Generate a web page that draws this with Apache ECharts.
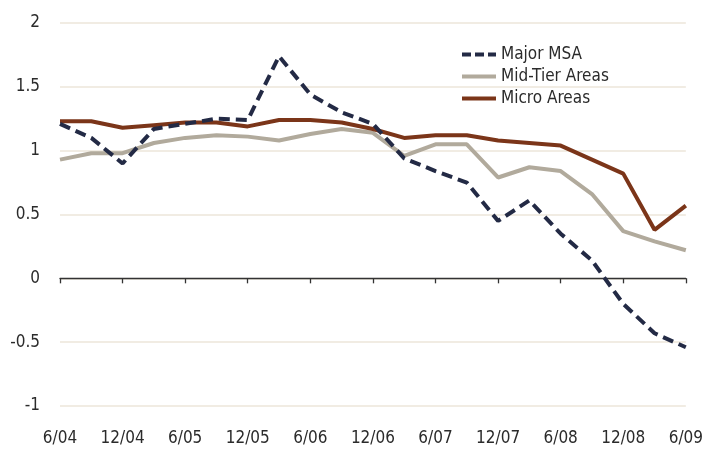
<!DOCTYPE html>
<html>
<head>
<meta charset="utf-8">
<script src="https://cdn.jsdelivr.net/npm/echarts@6/dist/echarts.min.js"></script>
<style>
  html, body { margin: 0; padding: 0; background: #fff; }
  #main { width: 706px; height: 451px; }
</style>
</head>
<body>
<div id="main"></div>
<script>
const quarters = ['6/04', '9/04', '12/04', '3/05', '6/05', '9/05', '12/05', '3/06', '6/06', '9/06', '12/06',
  '3/07', '6/07', '9/07', '12/07', '3/08', '6/08', '9/08', '12/08', '3/09', '6/09'];

const majorMsa = [1.21, 1.10, 0.90, 1.17, 1.21, 1.25, 1.24, 1.74, 1.44, 1.30, 1.21,
  0.94, 0.84, 0.75, 0.45, 0.61, 0.35, 0.14, -0.20, -0.43, -0.54];
const midTier = [0.93, 0.98, 0.98, 1.06, 1.10, 1.12, 1.11, 1.08, 1.13, 1.17, 1.14,
  0.96, 1.05, 1.05, 0.79, 0.87, 0.84, 0.66, 0.37, 0.29, 0.22];
const microAreas = [1.23, 1.23, 1.18, 1.20, 1.22, 1.22, 1.19, 1.24, 1.24, 1.22, 1.17,
  1.10, 1.12, 1.12, 1.08, 1.06, 1.04, 0.93, 0.82, 0.38, 0.57];

const font = '"Liberation Sans Narrow", "DejaVu Sans Condensed", sans-serif';

// legend icons drawn as short bars (dashed one for Major MSA)
const dashIcon = 'path://M0,0h9v4h-9z M13,0h9v4h-9z M26,0h8v4h-8z';
const barIcon = 'path://M0,0h34v4h-34z';

const chart = echarts.init(document.getElementById('main'));

chart.setOption({
  animation: false,
  textStyle: { fontFamily: font },
  grid: { left: 60, right: 16, top: 23, bottom: 45 },
  legend: {
    orient: 'vertical',
    left: 457,
    top: 41,
    itemWidth: 34,
    itemHeight: 4,
    itemGap: 5,
    textStyle: { fontFamily: font, fontSize: 17, color: '#2b2b2b' },
    data: [
      { name: 'Major MSA', icon: dashIcon },
      { name: 'Mid-Tier Areas', icon: barIcon },
      { name: 'Micro Areas', icon: barIcon }
    ]
  },
  xAxis: [{
    type: 'category',
    data: quarters,
    boundaryGap: false,
    axisLine: { onZero: true, lineStyle: { color: '#333', width: 1.3 } },
    axisTick: { show: true, interval: 1, length: 5, lineStyle: { color: '#333', width: 1.3 } },
    axisLabel: { show: false }
  }, {
    type: 'category',
    data: quarters,
    boundaryGap: false,
    position: 'bottom',
    axisLine: { show: false, onZero: false },
    axisTick: { show: false },
    axisLabel: { interval: 1, margin: 24, fontSize: 17, color: '#2b2b2b', fontFamily: font }
  }],
  yAxis: {
    type: 'value',
    min: -1,
    max: 2,
    interval: 0.5,
    axisLine: { show: false },
    axisTick: { show: false },
    axisLabel: { margin: 20, fontSize: 17, color: '#2b2b2b', fontFamily: font },
    splitLine: { lineStyle: { color: '#ece6da', width: 1.5 } }
  },
  series: [{
    name: 'Major MSA',
    type: 'line',
    data: majorMsa,
    symbol: 'none',
    z: 4,
    lineStyle: { color: '#232a45', width: 4, type: [11, 6] },
    itemStyle: { color: '#232a45' }
  }, {
    name: 'Mid-Tier Areas',
    type: 'line',
    data: midTier,
    symbol: 'none',
    z: 2,
    lineStyle: { color: '#b1aa9c', width: 4 },
    itemStyle: { color: '#b1aa9c' }
  }, {
    name: 'Micro Areas',
    type: 'line',
    data: microAreas,
    symbol: 'none',
    z: 3,
    lineStyle: { color: '#7b3519', width: 4 },
    itemStyle: { color: '#7b3519' }
  }]
});
</script>
</body>
</html>
